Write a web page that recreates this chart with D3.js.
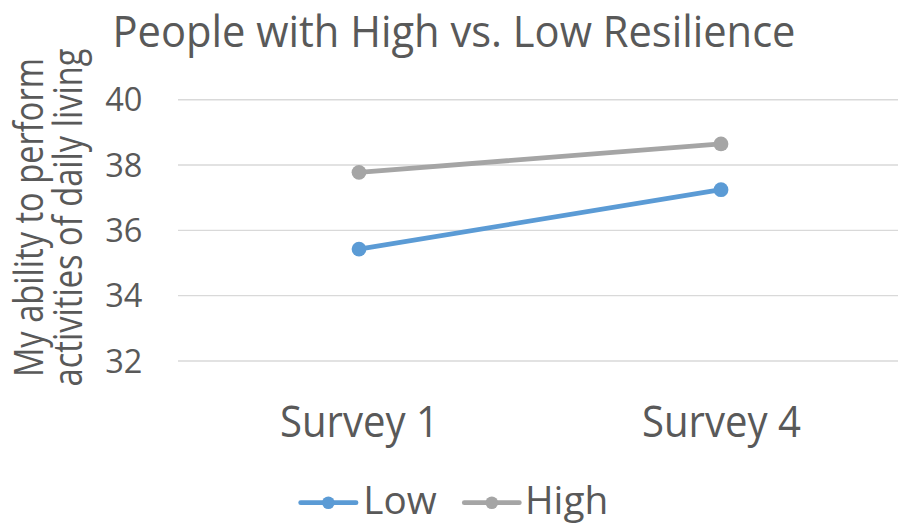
<!DOCTYPE html>
<html>
<head>
<meta charset="utf-8">
<script src="https://cdn.jsdelivr.net/npm/d3@7"></script>
<style>
  html, body { margin: 0; padding: 0; background: #fff; }
  svg { display: block; font-family: "Open Sans", "DejaVu Sans", sans-serif; }
</style>
</head>
<body>
<svg id="chart" width="898" height="523"></svg>
<script>
// Survey categories and series values
const categories = ["Survey 1", "Survey 4"];
const lowValues = [35.41, 37.23];
const highValues = [37.76, 38.63];
const seriesNames = ["Low", "High"];
const yTicks = [32, 34, 36, 38, 40];

const titleText = "People with High vs. Low Resilience";
const yLabelLines = ["My ability to perform", "activities of daily living"];

const colors = { Low: "#5B9BD5", High: "#A5A5A5" };
const textColor = "#595959";
const gridColor = "#D9D9D9";

const series = [
  { name: seriesNames[0], values: lowValues },
  { name: seriesNames[1], values: highValues }
];

const svg = d3.select("#chart");

// plot area
const plot = { left: 178, right: 902, top: 99.2, bottom: 360.5 };

const x = d3.scalePoint().domain(categories).range([plot.left, plot.right]).padding(0.5);
const y = d3.scaleLinear().domain([32, 40]).range([plot.bottom, plot.top]);

// helper: narrow text to a given width (condensed look)
function fit(sel, w) {
  sel.attr("textLength", w).attr("lengthAdjust", "spacingAndGlyphs");
  return sel;
}

// title
fit(svg.append("text")
  .attr("x", 112.5).attr("y", 46.7)
  .attr("font-size", 43).attr("fill", textColor)
  .text(titleText), 683);

// gridlines + y tick labels via axis
const yAxis = d3.axisLeft(y).tickValues(yTicks).tickSize(-(plot.right - plot.left)).tickPadding(0);
const gy = svg.append("g").attr("transform", `translate(${plot.left},0)`).call(yAxis);
gy.select(".domain").remove();
gy.selectAll(".tick line").attr("stroke", gridColor).attr("stroke-width", 1.4);
gy.selectAll(".tick text")
  .attr("x", -35.5).attr("dy", "0.36em")
  .attr("font-size", 32.6).attr("fill", textColor)
  .attr("font-family", "\"Open Sans\", sans-serif");

// x axis labels
const xAxis = d3.axisBottom(x).tickSize(0).tickPadding(0);
const gx = svg.append("g").call(xAxis);
gx.select(".domain").remove();
gx.selectAll(".tick text")
  .attr("y", 436.7).attr("dy", null)
  .attr("font-size", 44).attr("fill", textColor)
  .attr("font-family", "\"Open Sans\", sans-serif")
  .each(function () { fit(d3.select(this), 159); });

// y axis title (two rotated lines)
const yCenter = 217.5;
const yLabelBaselines = [42.7, 81.7];
const yLabelWidths = [319, 338];
yLabelLines.forEach((t, i) => {
  fit(svg.append("text")
    .attr("transform", `translate(${yLabelBaselines[i]},${yCenter}) rotate(-90)`)
    .attr("text-anchor", "middle")
    .attr("font-size", 40).attr("fill", textColor)
    .text(t), yLabelWidths[i]);
});

// lines and markers
const line = d3.line().x((d, i) => x(categories[i])).y(d => y(d));
const gs = svg.append("g");
series.forEach(s => {
  gs.append("path")
    .attr("d", line(s.values))
    .attr("fill", "none")
    .attr("stroke", colors[s.name])
    .attr("stroke-width", 4.8)
    .attr("stroke-linecap", "round");
  gs.selectAll(null).data(s.values).enter().append("circle")
    .attr("cx", (d, i) => x(categories[i]))
    .attr("cy", d => y(d))
    .attr("r", 7.4)
    .attr("fill", colors[s.name]);
});

// legend
const legendY = 502.7;
const legendItems = [
  { name: "Low", x0: 300.7, x1: 356, tx: 363.3, tw: 73.4 },
  { name: "High", x0: 464.3, x1: 519.3, tx: 525, tw: 83.3 }
];
const lg = svg.append("g");
legendItems.forEach(it => {
  lg.append("line")
    .attr("x1", it.x0).attr("x2", it.x1)
    .attr("y1", legendY).attr("y2", legendY)
    .attr("stroke", colors[it.name]).attr("stroke-width", 4.8)
    .attr("stroke-linecap", "round");
  lg.append("circle")
    .attr("cx", (it.x0 + it.x1) / 2).attr("cy", legendY)
    .attr("r", 6.3).attr("fill", colors[it.name]);
  fit(lg.append("text")
    .attr("x", it.tx).attr("y", 514.3)
    .attr("font-size", 39).attr("fill", textColor)
    .text(it.name), it.tw);
});
</script>
</body>
</html>
